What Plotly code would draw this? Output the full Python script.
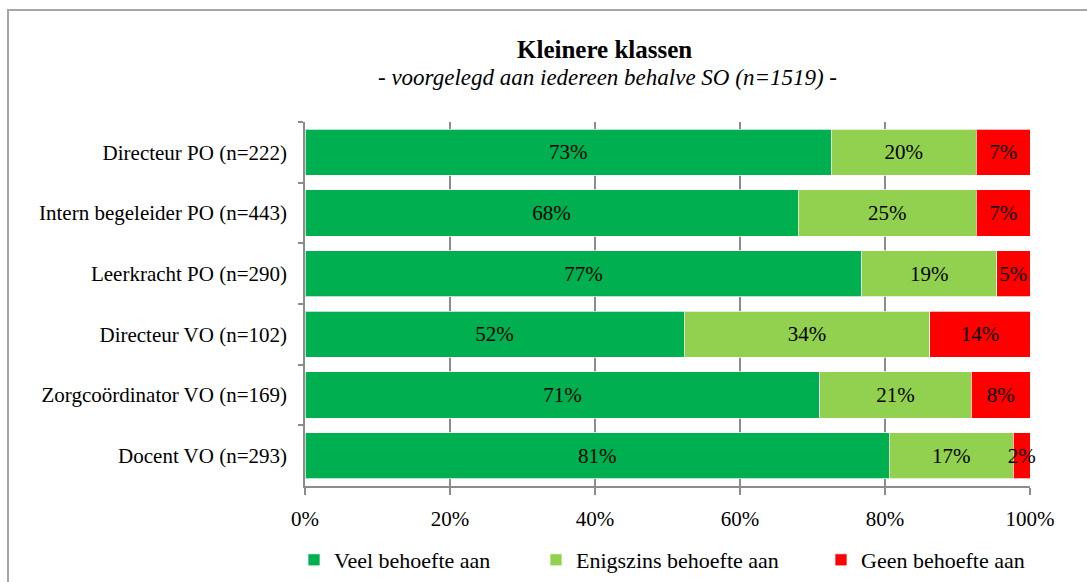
import plotly.graph_objects as go

categories = [
    "Directeur PO (n=222)",
    "Intern begeleider PO (n=443)",
    "Leerkracht PO (n=290)",
    "Directeur VO (n=102)",
    "Zorgcoördinator VO (n=169)",
    "Docent VO (n=293)",
]
veel = [72.6, 68.0, 76.8, 52.3, 71.0, 80.6]
enigszins = [20.0, 24.6, 18.6, 33.9, 20.9, 17.1]
geen = [7.4, 7.4, 4.6, 13.8, 8.1, 2.3]

series_names = ["Veel behoefte aan", "Enigszins behoefte aan", "Geen behoefte aan"]
series_values = [veel, enigszins, geen]
series_colors = ["#00B050", "#92D050", "#FF0000"]
legend_ids = ["legend", "legend2", "legend3"]

FONT = "Liberation Serif"
GRID = "#8c8c8c"

fig = go.Figure()
for name, vals, col, lg in zip(series_names, series_values, series_colors, legend_ids):
    fig.add_trace(go.Bar(
        y=categories, x=vals, name=name, orientation="h", legend=lg,
        marker=dict(color=col, line=dict(color="rgba(255,255,255,0.7)", width=1)),
        texttemplate="%{x:.0f}%", textposition="inside",
        insidetextanchor="middle", textangle=0,
        insidetextfont=dict(color="black", size=21, family=FONT),
        cliponaxis=False, hoverinfo="skip",
    ))

L, R, T, B = 305, 57, 122, 96
W, H = 1087, 582
pw, ph = W - L - R, H - T - B

def px(x):
    return (x - L) / pw

def py(y):
    return (H - B - y) / ph

legend_x = [294, 536, 821]
legend_cfg = {}
for lg, lx in zip(legend_ids, legend_x):
    legend_cfg[lg] = dict(orientation="h", x=px(lx), xanchor="left",
                          y=py(560), yanchor="middle",
                          font=dict(size=22, family=FONT),
                          itemwidth=30, bgcolor="rgba(0,0,0,0)")

fig.update_layout(
    width=W, height=H,
    barmode="stack", bargap=0.24,
    margin=dict(l=L, r=R, t=T, b=B, pad=0, autoexpand=False),
    paper_bgcolor="white", plot_bgcolor="white",
    font=dict(family=FONT, size=21, color="black"),
    uniformtext=dict(minsize=21, mode="show"),
    showlegend=True,
    xaxis=dict(range=[0, 100], dtick=20, ticksuffix="%", showgrid=True,
               gridcolor=GRID, gridwidth=1.5, showline=True, linecolor=GRID,
               linewidth=1.5, ticks="outside", ticklen=7, tickcolor=GRID,
               tickwidth=1.5, zeroline=False, tickfont=dict(size=21),
               ticklabelstandoff=6),
    yaxis=dict(autorange="reversed", showline=True, linecolor=GRID, linewidth=1.5,
               ticks="outside", ticklen=5, tickcolor=GRID, tickwidth=1.5,
               tickson="boundaries", showgrid=False, tickfont=dict(size=21),
               ticklabelstandoff=12),
    annotations=[
        dict(text="<b>Kleinere klassen</b>", xref="paper", yref="paper",
             x=px(604), y=py(49), xanchor="center", yanchor="middle",
             showarrow=False, font=dict(size=25, family=FONT)),
        dict(text="<i>- voorgelegd aan iedereen behalve SO (n=1519) -</i>",
             xref="paper", yref="paper", x=px(607), y=py(77),
             xanchor="center", yanchor="middle", showarrow=False,
             font=dict(size=23, family=FONT)),
    ],
    shapes=[
        dict(type="rect", xref="paper", yref="paper",
             x0=px(8), x1=px(1200), y0=py(700), y1=py(10),
             line=dict(color="#a6a6a6", width=2), fillcolor="rgba(0,0,0,0)",
             layer="below"),
    ],
    **legend_cfg,
)

fig.write_html("out.html", config={"displayModeBar": False},
               post_script="document.body.style.margin='0px';document.body.style.overflow='hidden';")
